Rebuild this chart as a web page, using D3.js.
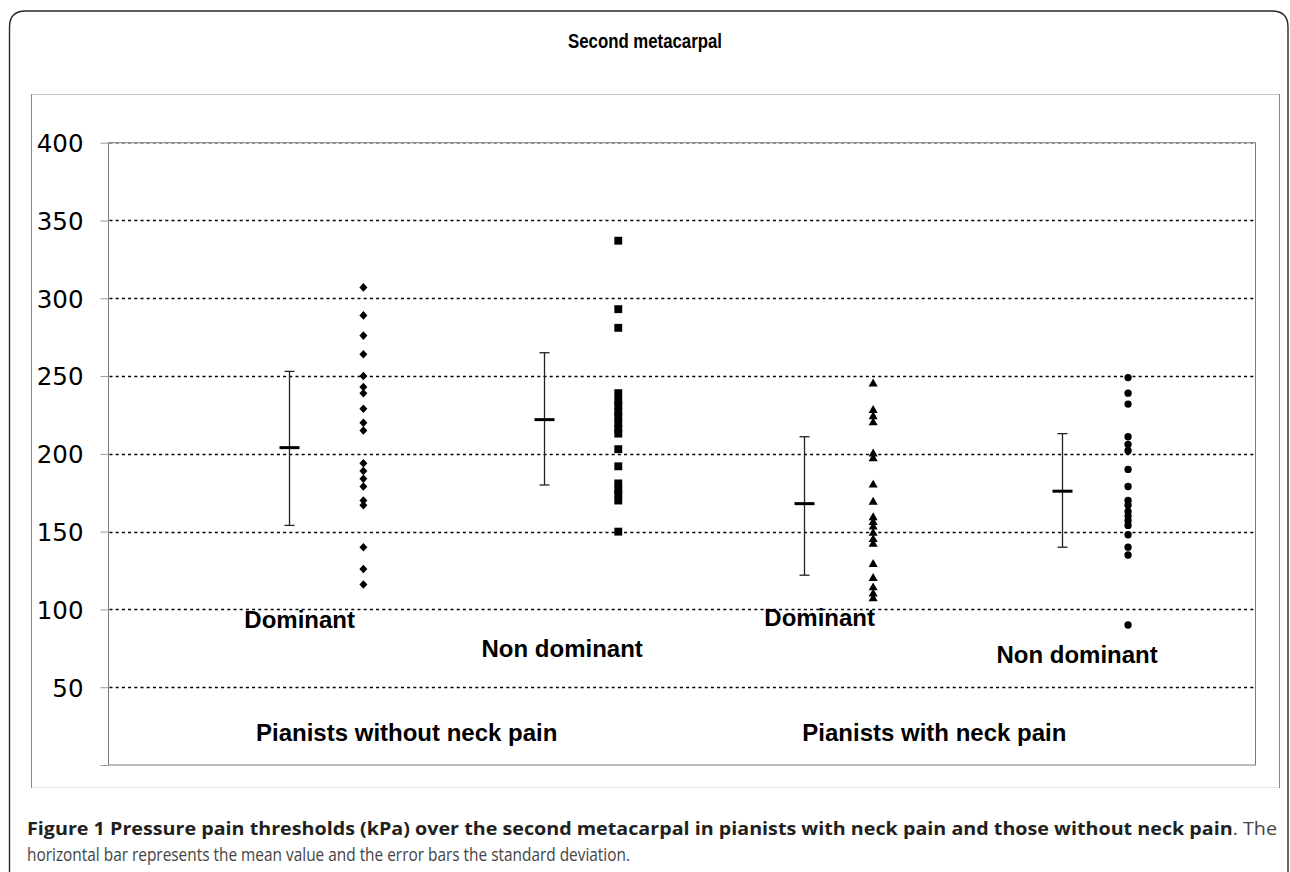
<!DOCTYPE html>
<html><head><meta charset="utf-8">
<script src="https://cdn.jsdelivr.net/npm/d3@7"></script>
<style>body{margin:0;background:#fff}</style></head>
<body><svg id="c" width="1290" height="872"></svg>
<script>
// ---------------- data ----------------
const chartTitle = "Second metacarpal";
const groupLabels = ["Pianists without neck pain", "Pianists with neck pain"];
const sideLabels = ["Dominant", "Non dominant", "Dominant", "Non dominant"];
const pointX = [1, 2, 3, 4];
const errorX = [0.71, 1.71, 2.73, 3.74];
const meanValues = [204, 222, 168, 176];
const sdLow = [154, 180, 122, 140];
const sdHigh = [253, 265, 211, 213];
const noPainDominant = [307, 289, 276, 264, 250, 243, 239, 229, 220, 215, 194, 189, 184, 179, 170, 167, 140, 126, 116];
const noPainNonDominant = [337, 293, 281, 239, 234, 231, 227, 224, 220, 216, 213, 203, 192, 181, 177, 174, 170, 150];
const painDominant = [245, 228, 224, 220, 200, 197, 180, 169, 159, 156, 153, 149, 145, 142, 129, 120, 114, 110, 107];
const painNonDominant = [249, 239, 232, 211, 206, 202, 190, 179, 170, 167, 163, 160, 157, 154, 148, 140, 135, 90];
const yTickValues = [0, 50, 100, 150, 200, 250, 300, 350, 400];
const yTickLabels = ["", "50", "100", "150", "200", "250", "300", "350", "400"];
const captionBold = "Figure 1 Pressure pain thresholds (kPa) over the second metacarpal in pianists with neck pain and those without neck pain";
const captionRest = ". The";
const captionLine2 = "horizontal bar represents the mean value and the error bars the standard deviation.";

// ---------------- layout ----------------
const svg = d3.select("#c");
const P = {l: 108.5, r: 1255.5, t: 142.7, b: 765};
const x = d3.scaleLinear().domain([0, 4.5]).range([P.l, P.r]);
const y = d3.scaleLinear().domain([0, 400]).range([P.b, P.t]);

// outer rounded frame
svg.append("path")
  .attr("d", "M9.5,872 V27 Q9.5,11 25.5,11 H1272 Q1288,11 1288,27 V872")
  .attr("fill", "none").attr("stroke", "#2a2a2a").attr("stroke-width", 1.4);

// title
svg.append("text").attr("x", 645).attr("y", 48).attr("text-anchor", "middle")
  .attr("font-family", "Liberation Sans, Arial, sans-serif").attr("font-weight", "bold")
  .attr("font-size", 20.5).attr("fill", "#000")
  .attr("textLength", 154).attr("lengthAdjust", "spacingAndGlyphs").text(chartTitle);

// chart area box
svg.append("line").attr("x1", 31).attr("x2", 1279).attr("y1", 94.5).attr("y2", 94.5).attr("stroke", "#c4c4c4");
svg.append("line").attr("x1", 31).attr("x2", 1279).attr("y1", 787.5).attr("y2", 787.5).attr("stroke", "#e6e6e6");
svg.append("line").attr("x1", 31.5).attr("x2", 31.5).attr("y1", 94).attr("y2", 788).attr("stroke", "#8a8a8a");
svg.append("line").attr("x1", 1279.5).attr("x2", 1279.5).attr("y1", 94).attr("y2", 788).attr("stroke", "#8a8a8a");

// plot area border
svg.append("rect").attr("x", P.l).attr("y", P.t).attr("width", P.r - P.l).attr("height", P.b - P.t)
  .attr("fill", "none").attr("stroke", "#7a7a7a").attr("stroke-width", 1);

// gridlines
svg.append("g").selectAll("line").data(yTickValues.filter(v => v > 0)).join("line")
  .attr("x1", P.l + 1).attr("x2", P.r - 1)
  .attr("y1", d => Math.round(y(d)) + 0.5).attr("y2", d => Math.round(y(d)) + 0.5)
  .attr("stroke", d => d === 400 ? "#888" : "#000")
  .attr("stroke-width", d => d === 400 ? 1 : 1.6)
  .attr("stroke-dasharray", "3,3.2");

// y axis ticks + labels
const yAxis = d3.axisLeft(y).tickValues(yTickValues).tickSize(8).tickPadding(17)
  .tickFormat((d, i) => yTickLabels[i]);
const ga = svg.append("g").attr("transform", `translate(${P.l},0)`).call(yAxis);
ga.select(".domain").remove();
ga.selectAll(".tick line").attr("stroke", "#9a9a9a");
ga.selectAll(".tick text").attr("font-family", "DejaVu Sans, Verdana, sans-serif")
  .attr("font-size", 24.5).attr("fill", "#000").attr("dy", "0.36em");

// error bars
const eb = svg.append("g");
errorX.forEach((ex, i) => {
  const cx = Math.round(x(ex)) + 0.5;
  eb.append("line").attr("x1", cx).attr("x2", cx).attr("y1", y(sdHigh[i])).attr("y2", y(sdLow[i]))
    .attr("stroke", "#222").attr("stroke-width", 1.3);
  [sdHigh[i], sdLow[i]].forEach(v => {
    eb.append("line").attr("x1", cx - 5).attr("x2", cx + 5).attr("y1", y(v)).attr("y2", y(v))
      .attr("stroke", "#222").attr("stroke-width", 1.3);
  });
  eb.append("line").attr("x1", cx - 10).attr("x2", cx + 10).attr("y1", y(meanValues[i])).attr("y2", y(meanValues[i]))
    .attr("stroke", "#000").attr("stroke-width", 3);
});

// scatter series
const series = [
  {vals: noPainDominant, shape: "diamond"},
  {vals: noPainNonDominant, shape: "square"},
  {vals: painDominant, shape: "triangle"},
  {vals: painNonDominant, shape: "circle"}
];
const sym = {
  diamond: "M0,-4.3 L4,0 L0,4.3 L-4,0 Z",
  square: d3.symbol(d3.symbolSquare, 62)(),
  triangle: d3.symbol(d3.symbolTriangle, 36)(),
  circle: d3.symbol(d3.symbolCircle, 42)()
};
series.forEach((s, i) => {
  svg.append("g").selectAll("path").data(s.vals).join("path")
    .attr("d", sym[s.shape])
    .attr("transform", d => `translate(${x(pointX[i])},${y(d)})`)
    .attr("fill", "#000");
});

// category labels
const sideLabelX = [0.75, 1.78, 2.79, 3.8];
const sideLabelY = [620, 649, 618, 655];
svg.append("g").selectAll("text").data(sideLabels).join("text")
  .attr("x", (d, i) => x(sideLabelX[i])).attr("y", (d, i) => sideLabelY[i]).attr("dy", "0.35em")
  .attr("text-anchor", "middle").attr("font-family", "Liberation Sans, Arial, sans-serif")
  .attr("font-weight", "bold").attr("font-size", 24).text(d => d);
const groupLabelX = [1.17, 3.24];
svg.append("g").selectAll("text").data(groupLabels).join("text")
  .attr("x", (d, i) => x(groupLabelX[i])).attr("y", 733).attr("dy", "0.35em")
  .attr("text-anchor", "middle").attr("font-family", "Liberation Sans, Arial, sans-serif")
  .attr("font-weight", "bold").attr("font-size", 24).text(d => d);

// caption
const c1 = svg.append("text").attr("x", 27).attr("y", 835)
  .attr("font-family", "Open Sans, sans-serif").attr("font-size", 18.5)
  .attr("textLength", 1250).attr("lengthAdjust", "spacingAndGlyphs");
c1.append("tspan").attr("font-weight", "bold").attr("fill", "#231f20").text(captionBold);
c1.append("tspan").attr("fill", "#444").text(captionRest);
svg.append("text").attr("x", 27).attr("y", 861)
  .attr("font-family", "Open Sans, sans-serif").attr("font-size", 18.5).attr("fill", "#444")
  .attr("textLength", 603).attr("lengthAdjust", "spacingAndGlyphs").text(captionLine2);
</script></body></html>
